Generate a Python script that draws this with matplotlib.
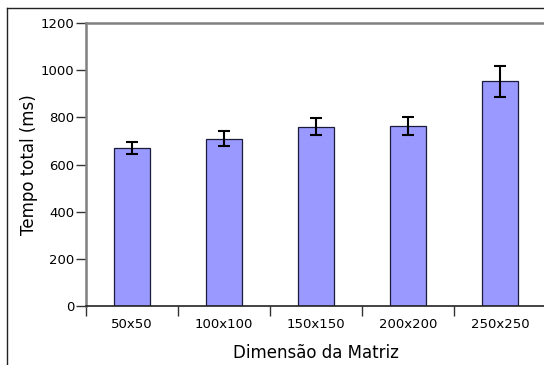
import numpy as np
import matplotlib
matplotlib.use('Agg')
import matplotlib.pyplot as plt
from matplotlib.lines import Line2D

# data
categories = ['50x50', '100x100', '150x150', '200x200', '250x250']
tempo = [670, 710, 760, 763, 953]
erro = [27, 33, 37, 37, 66]

fig = plt.figure(figsize=[5.44, 3.65], dpi=100)
ax = fig.add_axes([86/544, 1-306/365, 460/544, 283/365])

x = np.arange(len(categories))
ax.bar(x, tempo, width=0.4, color='#9999ff', edgecolor='#1a1a3a', linewidth=0.9)
ax.errorbar(x, tempo, yerr=erro, fmt='none', ecolor='black', elinewidth=1.5,
            capsize=4, capthick=1.5)

ax.set_xlim(-0.5, len(categories)-0.5)
ax.set_ylim(0, 1200)
ax.set_yticks(np.arange(0, 1201, 200))
# ticks on the category boundaries, labels in the middle
ax.set_xticks(np.arange(-0.5, len(categories), 1.0))
ax.set_xticklabels([])
ax.set_xticks(x, minor=True)
ax.set_xticklabels(categories, minor=True)
ax.tick_params(axis='x', which='minor', length=0, pad=9, labelsize=9.5)
ax.tick_params(axis='x', which='major', length=7, color='#333333', width=1)
ax.tick_params(axis='y', length=7, color='#333333', width=1, labelsize=9.5, pad=1.5)

for s in ['top', 'left']:
    ax.spines[s].set_color('#808080')
    ax.spines[s].set_linewidth(1.8)
ax.spines['bottom'].set_color('#222222')
ax.spines['bottom'].set_linewidth(1.2)
ax.spines['right'].set_visible(False)

ax.set_xlabel('Dimensão da Matriz', fontsize=12, labelpad=9)
ax.set_ylabel('Tempo total (ms)', fontsize=12, labelpad=2)

# outer frame remnants (top and left)
fig.add_artist(Line2D([7/544, 1], [1-8/365, 1-8/365], color='#222222', lw=1, transform=fig.transFigure))
fig.add_artist(Line2D([7/544, 7/544], [0, 1-8/365], color='#222222', lw=1, transform=fig.transFigure))

fig.savefig('out.png', dpi=100)
